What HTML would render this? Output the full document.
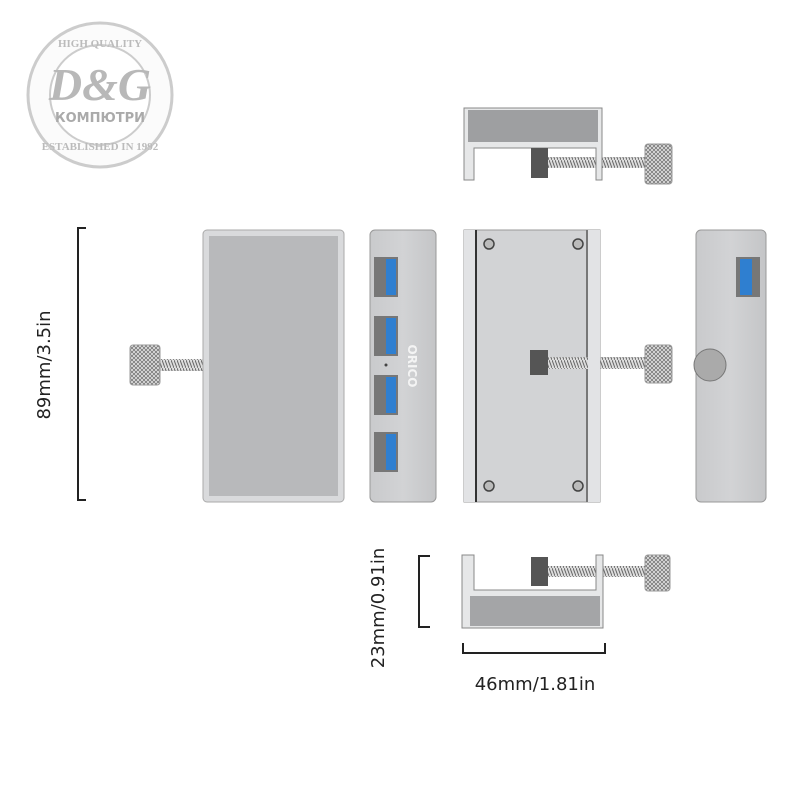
<!DOCTYPE html>
<html><head><meta charset="utf-8"><style>
html,body{margin:0;padding:0;background:#fff;width:800px;height:800px;overflow:hidden}
svg{display:block}
text{font-family:"DejaVu Sans","Liberation Sans",sans-serif}
</style></head><body>
<svg width="800" height="800" viewBox="0 0 800 800" xmlns="http://www.w3.org/2000/svg">
<defs>
<linearGradient id="alu" x1="0" y1="0" x2="1" y2="0">
<stop offset="0" stop-color="#c9cacc"/><stop offset="0.5" stop-color="#d2d3d5"/><stop offset="1" stop-color="#c4c5c7"/></linearGradient>
<pattern id="knurl" width="4" height="4" patternUnits="userSpaceOnUse">
<rect width="4" height="4" fill="#e4e4e4"/><path d="M0 4L4 0M0 0L4 4" stroke="#777" stroke-width="0.8"/></pattern>
<pattern id="thread" width="3" height="8" patternUnits="userSpaceOnUse">
<rect width="3" height="8" fill="#ddd"/><path d="M0 0L3 8" stroke="#666" stroke-width="1"/></pattern>
</defs>

<!-- logo -->
<circle cx="100" cy="95" r="72" fill="#fbfbfb" stroke="#ccc" stroke-width="3"/>
<circle cx="100" cy="95" r="50" fill="#fff" stroke="#ccc" stroke-width="2"/>
<text x="100" y="47" font-size="11" font-weight="bold" fill="#bbb" text-anchor="middle" style="font-family:'Liberation Serif',serif">HIGH QUALITY</text>
<text x="100" y="100" font-size="46" font-weight="bold" font-style="italic" fill="#b8b8b8" text-anchor="middle" style="font-family:'Liberation Serif',serif">D&amp;G</text>
<text x="100" y="122" font-size="13" font-weight="bold" fill="#aaa" text-anchor="middle">КОМПЮТРИ</text>
<text x="100" y="150" font-size="11" font-weight="bold" fill="#bbb" text-anchor="middle" style="font-family:'Liberation Serif',serif">ESTABLISHED IN 1992</text>

<!-- left dimension -->
<path d="M86 228H78V500H86" fill="none" stroke="#222" stroke-width="2"/>
<text transform="translate(50 365) rotate(-90)" font-size="18" fill="#222" text-anchor="middle">89mm/3.5in</text>

<!-- left panel -->
<rect x="160" y="359" width="44" height="12" fill="url(#thread)"/>
<rect x="130" y="345" width="30" height="40" rx="3" fill="url(#knurl)" stroke="#999"/>
<rect x="203" y="230" width="141" height="272" rx="4" fill="#d9dadc" stroke="#aaa"/>
<rect x="209" y="236" width="129" height="260" fill="#b8b9bb"/>

<!-- front panel -->
<rect x="370" y="230" width="66" height="272" rx="5" fill="url(#alu)" stroke="#999"/>
<g fill="#777"><rect x="374" y="257" width="24" height="40"/><rect x="374" y="316" width="24" height="40"/><rect x="374" y="375" width="24" height="40"/><rect x="374" y="432" width="24" height="40"/></g>
<g fill="#2f7fd0"><rect x="386" y="259" width="10" height="36"/><rect x="386" y="318" width="10" height="36"/><rect x="386" y="377" width="10" height="36"/><rect x="386" y="434" width="10" height="36"/></g>
<circle cx="386" cy="365" r="1.5" fill="#444"/>
<text transform="translate(408 366) rotate(90)" font-size="12" font-weight="bold" fill="#f4f4f4" text-anchor="middle">ORICO</text>

<!-- back panel -->
<rect x="548" y="357" width="100" height="12" fill="url(#thread)"/>
<rect x="464" y="230" width="136" height="272" fill="#d2d3d5" stroke="#999"/>
<rect x="464" y="230" width="12" height="272" fill="#e2e3e5"/>
<rect x="475" y="230" width="2" height="272" fill="#333"/>
<rect x="588" y="230" width="12" height="272" fill="#e2e3e5"/>
<rect x="586" y="230" width="2" height="272" fill="#777"/>
<rect x="548" y="357" width="40" height="12" fill="url(#thread)"/>
<rect x="530" y="350" width="18" height="25" fill="#555"/>
<g fill="#bbb" stroke="#444" stroke-width="1.5"><circle cx="489" cy="244" r="5"/><circle cx="578" cy="244" r="5"/><circle cx="489" cy="486" r="5"/><circle cx="578" cy="486" r="5"/></g>
<rect x="645" y="345" width="27" height="38" rx="3" fill="url(#knurl)" stroke="#999"/>

<!-- right panel -->
<rect x="696" y="230" width="70" height="272" rx="5" fill="url(#alu)" stroke="#999"/>
<rect x="736" y="257" width="24" height="40" fill="#777"/>
<rect x="740" y="259" width="12" height="36" fill="#2f7fd0"/>
<circle cx="710" cy="365" r="16" fill="#aaa" stroke="#777"/>

<!-- top clamp -->
<rect x="548" y="157" width="100" height="11" fill="url(#thread)"/>
<path d="M464 108H602V180H596V148H474V180H464Z" fill="#e6e7e8" stroke="#888"/>
<rect x="468" y="110" width="130" height="32" fill="#9e9fa1"/>
<rect x="531" y="148" width="17" height="30" fill="#555"/>
<rect x="645" y="144" width="27" height="40" rx="3" fill="url(#knurl)" stroke="#999"/>

<!-- bottom clamp -->
<rect x="548" y="566" width="100" height="11" fill="url(#thread)"/>
<path d="M462 555H474V590H596V555H603V628H462Z" fill="#e6e7e8" stroke="#888"/>
<rect x="470" y="596" width="130" height="30" fill="#a4a5a7"/>
<rect x="531" y="557" width="17" height="29" fill="#555"/>
<rect x="645" y="555" width="25" height="36" rx="3" fill="url(#knurl)" stroke="#999"/>

<!-- bottom dimensions -->
<path d="M430 556H419V627H430" fill="none" stroke="#222" stroke-width="2"/>
<text transform="translate(384 608) rotate(-90)" font-size="18" fill="#222" text-anchor="middle">23mm/0.91in</text>
<path d="M463 643V653H605V643" fill="none" stroke="#222" stroke-width="2"/>
<text x="535" y="690" font-size="18" fill="#222" text-anchor="middle">46mm/1.81in</text>
</svg>
</body></html>
